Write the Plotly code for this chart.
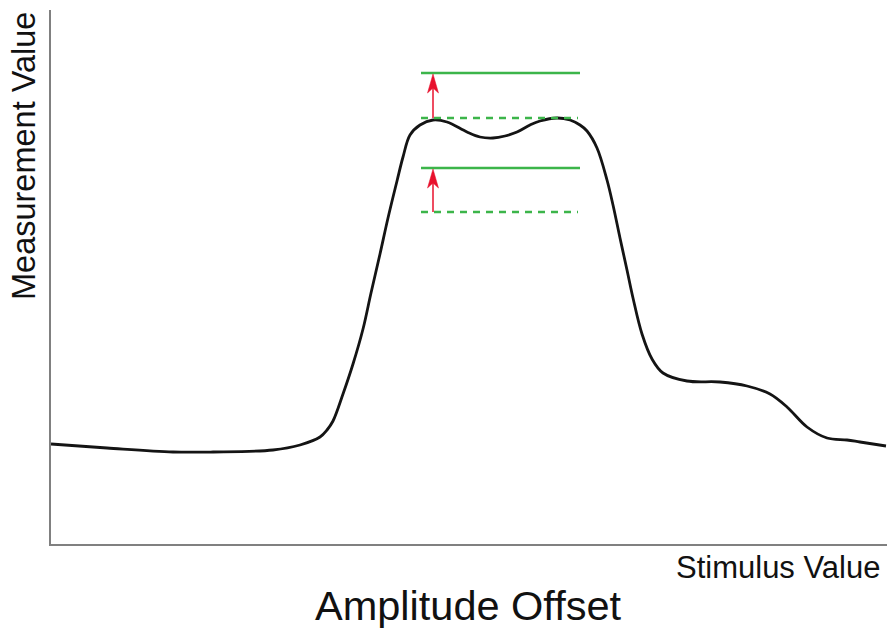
import plotly.graph_objects as go

# Response curve (stimulus vs measurement), arbitrary units
stimulus = [0, 56, 122, 162, 222, 249, 269, 276, 282, 292, 302, 312, 320, 329, 337, 346, 352, 359,
            369, 382, 396, 416, 429, 442, 454, 466, 479, 489, 506, 519, 529, 536, 546, 556, 562, 569,
            576, 582, 591, 601, 612, 636, 669, 696, 719, 736, 756, 776, 796, 809, 835]
measurement = [100, 96, 92, 92, 94, 99, 107, 114, 123, 150, 180, 215, 251, 290, 326, 363, 387, 409,
               419, 424, 422, 412, 407, 406, 408, 412, 419, 423, 426, 424, 419, 413, 396, 364, 339, 306,
               274, 246, 210, 185, 171, 163, 162, 158, 150, 137, 117, 106, 104, 102, 98]

# Offset reference levels: (baseline dashed, shifted solid)
level_start = 370
level_end = 529
dashed_levels = [426, 332]
solid_levels = [471, 376]
arrow_x = 382

x_range = [0, 836]
y_range = [0, 534]

GREEN = "#3cb54a"
RED = "#e8112d"

fig = go.Figure()

fig.add_trace(go.Scatter(x=stimulus, y=measurement, mode="lines",
                         line=dict(color="#141414", width=2.8, shape="spline", smoothing=1.0),
                         hoverinfo="skip", showlegend=False))

for lv in solid_levels:
    fig.add_trace(go.Scatter(x=[level_start, level_end], y=[lv, lv], mode="lines",
                             line=dict(color=GREEN, width=2.5), showlegend=False, hoverinfo="skip"))
for lv in dashed_levels:
    fig.add_trace(go.Scatter(x=[level_start, level_end - 2], y=[lv, lv], mode="lines",
                             line=dict(color=GREEN, width=2.5, dash="7px,6px"),
                             showlegend=False, hoverinfo="skip"))

shapes = []
for d, s in zip(dashed_levels, solid_levels):
    tip = s - 1
    fig.add_trace(go.Scatter(x=[arrow_x, arrow_x], y=[d, tip - 10], mode="lines",
                             line=dict(color=RED, width=1.5), showlegend=False, hoverinfo="skip"))
    path = (f"M {arrow_x},{tip} L {arrow_x - 5.5},{tip - 19} L {arrow_x},{tip - 14} "
            f"L {arrow_x + 5.5},{tip - 19} Z")
    shapes.append(dict(type="path", path=path, xref="x", yref="y",
                       fillcolor=RED, line=dict(color=RED, width=0.5)))

W, H = 887, 629
ml, mr, mt, mb = 51, 0, 10, 85
pw, ph = W - ml - mr, H - mt - mb

def px(xp):
    return (xp - ml) / pw

def py(yp):
    return (H - mb - yp) / ph

FONT = "Liberation Sans, Arial, sans-serif"
annotations = [
    dict(text="Measurement Value", x=px(24), y=py(156), xref="paper", yref="paper",
         textangle=-90, showarrow=False, xanchor="center", yanchor="middle",
         font=dict(size=32.5, color="#111", family=FONT)),
    dict(text="Stimulus Value", x=px(778), y=py(567), xref="paper", yref="paper",
         showarrow=False, xanchor="center", yanchor="middle",
         font=dict(size=31, color="#111", family=FONT)),
    dict(text="Amplitude Offset", x=px(468), y=py(605), xref="paper", yref="paper",
         showarrow=False, xanchor="center", yanchor="middle",
         font=dict(size=41.5, color="#111", family=FONT)),
]

fig.update_layout(
    width=W, height=H,
    margin=dict(l=ml, r=mr, t=mt, b=mb),
    paper_bgcolor="white", plot_bgcolor="white",
    shapes=shapes, annotations=annotations,
    xaxis=dict(range=x_range, showgrid=False, zeroline=False, showticklabels=False, ticks="",
               showline=True, linecolor="#808080", linewidth=1.5, fixedrange=True),
    yaxis=dict(range=y_range, showgrid=False, zeroline=False, showticklabels=False, ticks="",
               showline=True, linecolor="#808080", linewidth=1.5, fixedrange=True),
)

fig.write_html("out.html", config={"displayModeBar": False},
               post_script="document.body.style.margin='0';document.body.style.overflow='hidden';")
